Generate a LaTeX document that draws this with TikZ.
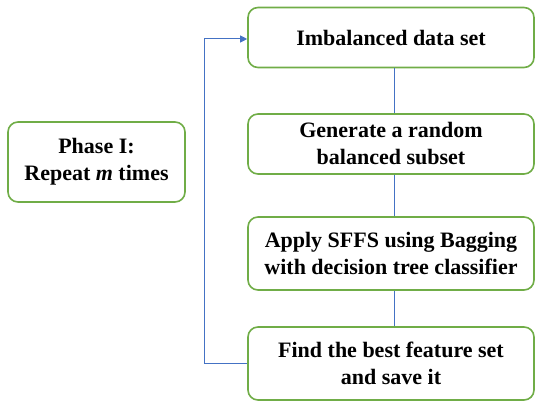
\documentclass[tikz,border=0pt]{standalone}
\usepackage{fontspec}
\setmainfont{Liberation Serif}
\usetikzlibrary{arrows.meta}
\definecolor{boxgreen}{RGB}{112,173,71}
\definecolor{lineblue}{RGB}{68,114,196}
\begin{document}
\begin{tikzpicture}[x=1pt,y=-1pt,
  stepbox/.style={draw=boxgreen,line width=1.6pt,rounded corners=10pt,fill=white,
    align=center,font=\fontsize{22}{27}\selectfont\bfseries,inner sep=0pt},
  link/.style={draw=lineblue,line width=1pt}]
\useasboundingbox (0,0) rectangle (536,401);
\node[stepbox,minimum width=286pt,minimum height=60pt] (b1) at (391,37.5) {Imbalanced data set};
\node[stepbox,minimum width=286pt,minimum height=60pt] (b2) at (391,144) {Generate a random\\balanced subset};
\node[stepbox,minimum width=286pt,minimum height=73pt] (b3) at (391,253.5) {Apply SFFS using Bagging\\with decision tree classifier};
\node[stepbox,minimum width=286pt,minimum height=73pt] (b4) at (391,363.5) {Find the best feature set\\and save it};
\node[stepbox,minimum width=177pt,minimum height=80pt] (ph) at (96.5,162) {Phase I:\\Repeat \textit{m} times};
\coordinate (c1) at (204,363.5);
\coordinate (c2) at (204,39);
\draw[link] (b1.south -| 394,0) -- (b2.north -| 394,0);
\draw[link] (b2.south -| 394,0) -- (b3.north -| 394,0);
\draw[link] (b3.south -| 394,0) -- (b4.north -| 394,0);
\draw[link,-{Triangle[length=7pt,width=7pt]}] (b4.west) -- (c1) -- (c2) -- (b1.west |- c2);
\end{tikzpicture}
\end{document}
